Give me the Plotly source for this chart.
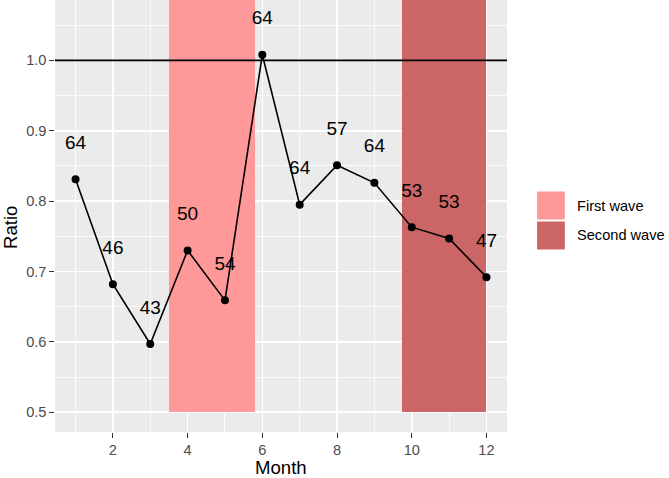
import plotly.graph_objects as go

months = [1, 2, 3, 4, 5, 6, 7, 8, 9, 10, 11, 12]
ratio = [0.831, 0.682, 0.597, 0.730, 0.659, 1.008, 0.795, 0.851, 0.826, 0.763, 0.747, 0.692]
counts = [64, 46, 43, 50, 54, 64, 64, 57, 64, 53, 53, 47]
label_offset = 0.05

wave_names = ["First wave", "Second wave"]
wave_start = [3.5, 9.75]
wave_end = [5.8, 12.0]
wave_colors = ["#FF9999", "#CC6666"]
wave_bottom = 0.5

y_range = [0.472, 1.0857]
x_range = [0.45, 12.55]

FONT = "Liberation Sans, Arial, Helvetica, sans-serif"

fig = go.Figure()

# wave rectangles (as bars spanning to panel top)
for name, s, e, c in zip(wave_names, wave_start, wave_end, wave_colors):
    fig.add_trace(go.Bar(
        x=[(s + e) / 2], width=[e - s], base=[wave_bottom],
        y=[y_range[1] - wave_bottom + 0.2],
        marker=dict(color=c, line=dict(width=0)),
        showlegend=False, hoverinfo="skip", name=name,
    ))

fig.add_trace(go.Scatter(
    x=months, y=ratio, mode="lines+markers",
    line=dict(color="black", width=1.6),
    marker=dict(color="black", size=8),
    showlegend=False,
))

fig.add_trace(go.Scatter(
    x=months, y=[r + label_offset for r in ratio], mode="text",
    text=[str(c) for c in counts], textposition="middle center",
    textfont=dict(family=FONT, size=19, color="black"),
    showlegend=False,
))

# horizontal reference line at 1.0
fig.add_shape(type="line", xref="paper", x0=0, x1=1, yref="y", y0=1.0, y1=1.0,
              line=dict(color="black", width=1.6), layer="above")

# manual legend (ggplot style)
W, H = 669, 478
ml, mr, mt, mb = 55, 161.5, 0, 46
pw = W - ml - mr
ph = H - mt - mb

def px(xp):
    return (xp - ml) / pw

def py(yp):
    return (H - mb - yp) / ph

key_x0, key_x1 = 537, 566
key_tops = [191, 221]
key_h = 29
for name, c, top in zip(wave_names, wave_colors, key_tops):
    fig.add_shape(type="rect", xref="paper", yref="paper",
                  x0=px(key_x0), x1=px(key_x1), y0=py(top + key_h), y1=py(top),
                  fillcolor=c, line=dict(color="white", width=1.2), layer="above")
    fig.add_annotation(xref="paper", yref="paper", x=px(576), y=py(top + key_h / 2),
                       text=name, showarrow=False, xanchor="left", yanchor="middle",
                       font=dict(family=FONT, size=14.6, color="black"))

# axis titles
fig.add_annotation(xref="paper", yref="paper", x=px((ml + W - mr) / 2), y=py(467),
                   text="Month", showarrow=False, xanchor="center", yanchor="middle",
                   font=dict(family=FONT, size=18.6, color="black"))
fig.add_annotation(xref="paper", yref="paper", x=px(10), y=py(228),
                   text="Ratio", showarrow=False, xanchor="center", yanchor="middle",
                   textangle=-90, font=dict(family=FONT, size=18.6, color="black"))

fig.update_layout(
    width=W, height=H,
    margin=dict(l=ml, r=mr, t=mt, b=mb, autoexpand=False),
    paper_bgcolor="white", plot_bgcolor="#EBEBEB",
    barmode="overlay", bargap=0,
    font=dict(family=FONT, color="black"),
    showlegend=False,
)

fig.update_xaxes(
    range=x_range, tickmode="linear", tick0=2, dtick=2, automargin=False,
    showgrid=True, gridcolor="white", gridwidth=1.6,
    minor=dict(tickmode="linear", tick0=1, dtick=1, showgrid=True, gridcolor="white", gridwidth=0.8, ticks=""),
    zeroline=False, showline=False,
    ticks="outside", ticklen=4.6, tickcolor="#333333", tickwidth=1,
    tickfont=dict(family=FONT, size=14.6, color="#4D4D4D"),
)
fig.update_yaxes(
    range=y_range, tickmode="linear", tick0=0.5, dtick=0.1, tickformat=".1f", automargin=False,
    showgrid=True, gridcolor="white", gridwidth=1.6,
    minor=dict(tickmode="linear", tick0=0.55, dtick=0.1, showgrid=True, gridcolor="white", gridwidth=0.8, ticks=""),
    zeroline=False, showline=False,
    ticks="outside", ticklen=4.6, tickcolor="#333333", tickwidth=1,
    tickfont=dict(family=FONT, size=14.6, color="#4D4D4D"),
)

fig.write_html("out.html", config={"displayModeBar": False, "staticPlot": True},
               post_script="document.body.style.margin='0';document.body.style.overflow='hidden';")
